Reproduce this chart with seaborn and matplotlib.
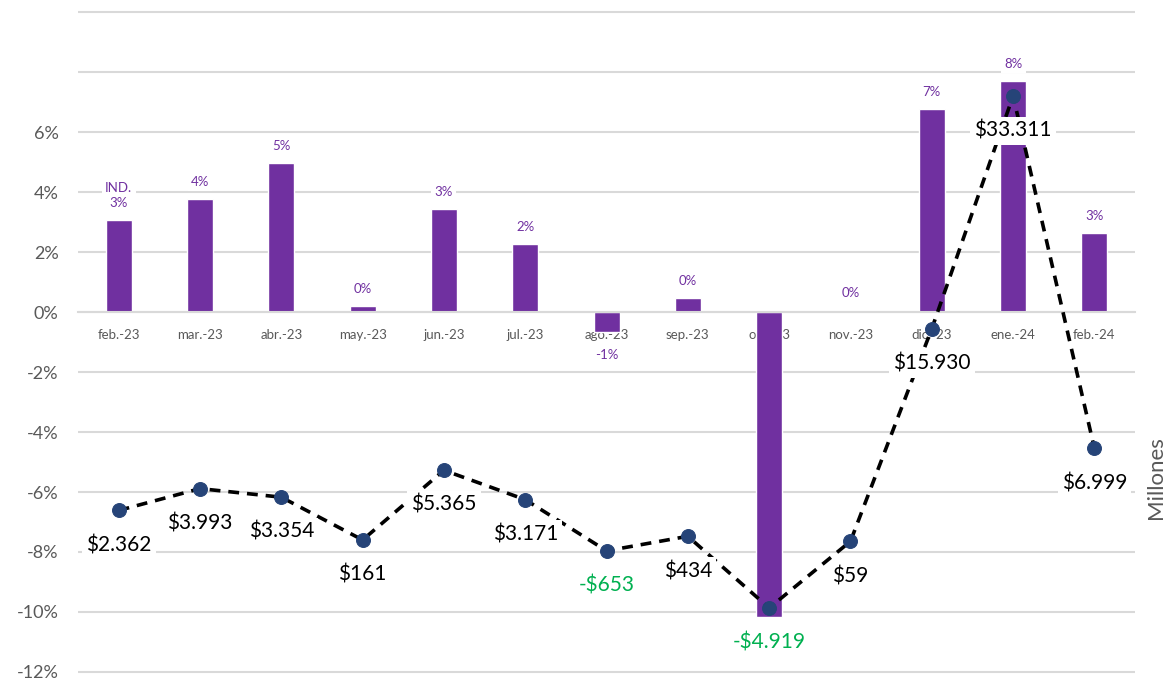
import numpy as np
import matplotlib
matplotlib.use("Agg")
import matplotlib.pyplot as plt
import seaborn as sns


months = ['feb.-23', 'mar.-23', 'abr.-23', 'may.-23', 'jun.-23', 'jul.-23', 'ago.-23',
          'sep.-23', 'oct.-23', 'nov.-23', 'dic.-23', 'ene.-24', 'feb.-24']

# variacion mensual (%)
pct_change = [3.07, 3.77, 4.97, 0.2, 3.43, 2.27, -0.67, 0.47, -10.17, 0.05, 6.77, 7.7, 2.63]
bar_labels = ['IND.\n3%', '4%', '5%', '0%', '3%', '2%', '-1%', '0%', '', '0%', '7%', '8%', '3%']

# valores en millones
amounts = [2362, 3993, 3354, 161, 5365, 3171, -653, 434, -4919, 59, 15930, 33311, 6999]

y_ticks = [-12, -10, -8, -6, -4, -2, 0, 2, 4, 6, 8, 10]

PURPLE = '#7030A0'
NAVY = '#264478'
GREEN = '#00B050'
GRAY = '#595959'
GRID = '#D9D9D9'


def money(v):
    s = f"{abs(v):,}".replace(',', '.')
    return f"-${s}" if v < 0 else f"${s}"


sns.set_style('white')
plt.rcParams['font.family'] = ['Lato', 'DejaVu Sans']

fig = plt.figure(figsize=(11.68, 6.82), dpi=100)
ax = fig.add_axes([0.0668, 0.006, 0.905, 0.987])

sns.barplot(x=months, y=pct_change, color=PURPLE, saturation=1, width=0.32, ax=ax, zorder=2)

ax.set_ylim(-12.2, 10.25)
ax.set_xlim(-0.5, len(months) - 0.5)
ax.set_yticks(y_ticks)
ax.set_yticklabels([f"{t}%" if t <= 6 else '' for t in y_ticks], fontsize=13, color=GRAY)
ax.yaxis.grid(True, color=GRID, linewidth=1.5)
ax.set_axisbelow(True)
ax.tick_params(axis='y', length=0, pad=14)

for s in ['top', 'right', 'left']:
    ax.spines[s].set_visible(False)
ax.spines['bottom'].set_position(('data', 0))
ax.spines['bottom'].set_color(GRID)
ax.spines['bottom'].set_linewidth(1.5)
ax.tick_params(axis='x', which='major', length=0, labelsize=9.5, labelcolor=GRAY, pad=12)
ax.set_xticks(np.arange(len(months) + 1) - 0.5, minor=True)
ax.tick_params(axis='x', which='minor', length=6, width=1.5, color=GRID)
ax.set_xlabel('')
ax.set_ylabel('')

for i, (v, lab) in enumerate(zip(pct_change, bar_labels)):
    if not lab:
        continue
    off = 8 if v >= 0 else -12
    ax.annotate(lab, (i, v), xytext=(0, off), textcoords='offset points',
                ha='center', va='bottom' if v >= 0 else 'top', fontsize=9.5,
                color=PURPLE, linespacing=1.25, zorder=3,
                bbox=dict(boxstyle='square,pad=0.25', fc='white', ec='none'))

# eje secundario: millones
ax2 = ax.twinx()
x_pos = np.arange(len(months))
sns.lineplot(x=x_pos, y=amounts, ax=ax2, color='black', linestyle=(0, (3, 2.2)), linewidth=2.6,
             marker='o', markersize=10, markerfacecolor=NAVY, markeredgecolor=NAVY, zorder=4)
ax2.set_ylim(-10140, 40120)
ax2.set_yticks([])
ax2.set_ylabel('')
for s in ax2.spines.values():
    s.set_visible(False)

for i, v in enumerate(amounts):
    ax2.annotate(money(v), (i, v), xytext=(0, -25), textcoords='offset points',
                 ha='center', va='center', fontsize=15,
                 color=GREEN if v < 0 else 'black', zorder=5,
                 bbox=dict(boxstyle='square,pad=0.2', fc='white', ec='none'))

fig.text(1156 / 1168, 1 - 478 / 682, 'Millones', rotation=90, ha='center', va='center',
         fontsize=16, color=GRAY)

fig.savefig('out.png', dpi=100)
